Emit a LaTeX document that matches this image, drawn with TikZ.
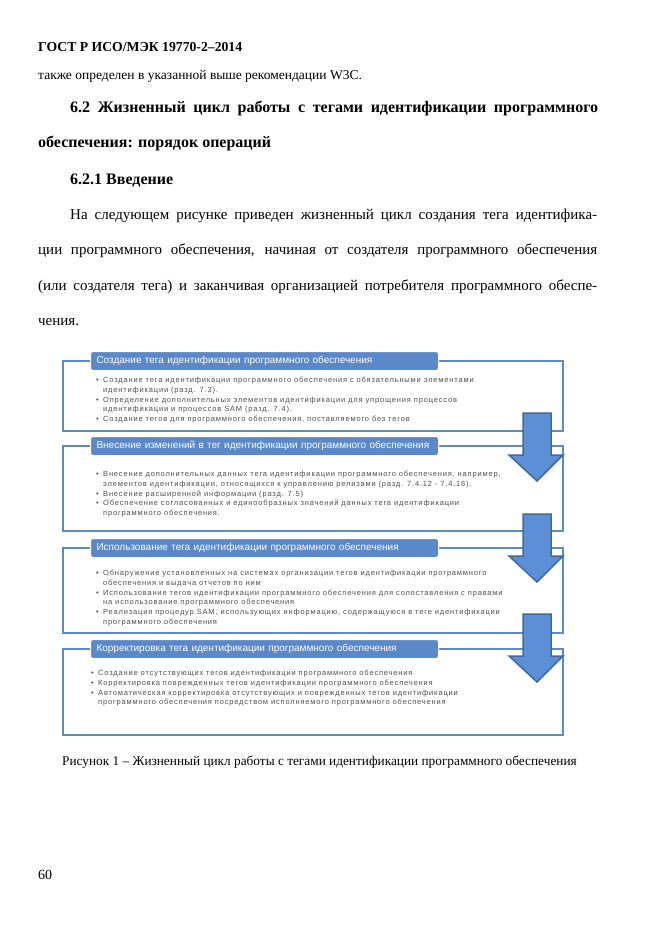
\documentclass[tikz,border=0pt]{standalone}
\usepackage{fontspec}
\setmainfont{Liberation Serif}
\setsansfont{Liberation Sans}
\usetikzlibrary{positioning}
\definecolor{frameblue}{HTML}{5B8BCB}
\definecolor{barblue}{HTML}{5A88C8}
\definecolor{arrowfill}{HTML}{5B8FD6}
\definecolor{arrowline}{HTML}{41689F}
\definecolor{itemgray}{HTML}{4D4D4D}
\tikzset{
  txt/.style={anchor=base west, inner sep=0pt},
  stagebox/.style={draw=frameblue, line width=1.6pt},
  stagehead/.style={fill=barblue, draw=white, line width=1pt, rounded corners=2.5pt,
    anchor=west, text width=336pt, inner xsep=6pt, inner ysep=0pt, minimum height=19pt,
    align=left, text=white, font=\sffamily\fontsize{10}{12}\selectfont},
  items/.style={anchor=north west, inner sep=0pt, align=left, text=itemgray,
    font=\sffamily\addfontfeature{LetterSpace=11}\fontsize{7.5}{9.7}\selectfont},
  downarrow/.style={fill=arrowfill, draw=arrowline, line width=1.5pt}
}
\newcommand{\itm}{\makebox[7pt][l]{•}}
\newcommand{\cont}{\hspace*{7pt}}
\begin{document}
\begin{tikzpicture}[x=1pt, y=-1pt]
  \useasboundingbox (0,0) rectangle (661,936);
  % page text
  \node (gost) [txt, font=\bfseries\fontsize{13.7}{16}\selectfont] at (38,52) {ГОСТ Р ИСО/МЭК 19770-2–2014};
  \node (prev) [txt, font=\fontsize{13.5}{16}\selectfont] at (38,80) {также определен в указанной выше рекомендации W3C.};
  \node (h1) [txt, font=\bfseries\fontsize{16}{18}\selectfont] at (70,113) {\makebox[528pt][s]{6.2 Жизненный цикл работы с тегами идентификации программного}};
  \node (h2) [txt, font=\bfseries\fontsize{16}{18}\selectfont] at (38,148) {обеспечения: порядок операций};
  \node (h3) [txt, font=\bfseries\fontsize{16}{18}\selectfont] at (70,185) {6.2.1 Введение};
  \node (p1) [txt, font=\fontsize{15}{17}\selectfont] at (70,219) {\makebox[527pt][s]{На следующем рисунке приведен жизненный цикл создания тега идентифика-}};
  \node (p2) [txt, font=\fontsize{15}{17}\selectfont] at (38,254) {\makebox[559pt][s]{ции программного обеспечения, начиная от создателя программного обеспечения}};
  \node (p3) [txt, font=\fontsize{15}{17}\selectfont] at (38,290) {\makebox[559pt][s]{(или создателя тега) и заканчивая организацией потребителя программного обеспе-}};
  \node (p4) [txt, font=\fontsize{15}{17}\selectfont] at (38,325) {чения.};
  \node (cap) [txt, font=\fontsize{13.3}{16}\selectfont] at (62,765) {Рисунок 1 – Жизненный цикл работы с тегами идентификации программного обеспечения};
  \node (pg) [txt, font=\fontsize{14}{16}\selectfont] at (38,879) {60};

  % stage frames
  \draw[stagebox] (63,361) rectangle (563,431);
  \draw[stagebox] (63,446) rectangle (563,531);
  \draw[stagebox] (63,548) rectangle (563,633);
  \draw[stagebox] (63,649) rectangle (563,735);

  % stage headers
  \node (create) [stagehead] at (90,361) {Создание тега идентификации программного обеспечения};
  \node (change) [stagehead] at (90,446) {Внесение изменений в тег идентификации программного обеспечения};
  \node (use)    [stagehead] at (90,548) {Использование тега идентификации программного обеспечения};
  \node (fix)    [stagehead] at (90,649) {Корректировка тега идентификации программного обеспечения};

  % stage items
  \node (createitems) [items] at (96,377) {\itm Создание тега идентификации программного обеспечения с обязательными элементами\\
    \cont идентификации (разд. 7.3).\\
    \itm Определение дополнительных элементов идентификации для упрощения процессов\\
    \cont идентификации и процессов SAM (разд. 7.4).\\
    \itm Создание тегов для программного обеспечения, поставляемого без тегов};
  \node (changeitems) [items] at (96,471) {\itm Внесение дополнительных данных тега идентификации программного обеспечения, например,\\
    \cont элементов идентификации, относящихся к управлению релизами (разд. 7.4.12 - 7.4.16).\\
    \itm Внесение расширенной информации (разд. 7.5)\\
    \itm Обеспечение согласованных и единообразных значений данных тега идентификации\\
    \cont программного обеспечения.};
  \node (useitems) [items] at (96,570) {\itm Обнаружение установленных на системах организации тегов идентификации программного\\
    \cont обеспечения и выдача отчетов по ним\\
    \itm Использование тегов идентификации программного обеспечения для сопоставления с правами\\
    \cont на использование программного обеспечения\\
    \itm Реализация процедур SAM, использующих информацию, содержащуюся в теге идентификации\\
    \cont программного обеспечения};
  \node (fixitems) [items] at (91,670) {\itm Создание отсутствующих тегов идентификации программного обеспечения\\
    \itm Корректировка поврежденных тегов идентификации программного обеспечения\\
    \itm Автоматическая корректировка отсутствующих и поврежденных тегов идентификации\\
    \cont программного обеспечения посредством исполняемого программного обеспечения};

  % block arrows between stages
  \foreach \t in {413,514,614}
    \draw[downarrow] (523,\t) -- (551,\t) -- (551,\t+42) -- (563,\t+42) -- (537,\t+68)
      -- (509,\t+42) -- (523,\t+42) -- cycle;
\end{tikzpicture}
\end{document}
